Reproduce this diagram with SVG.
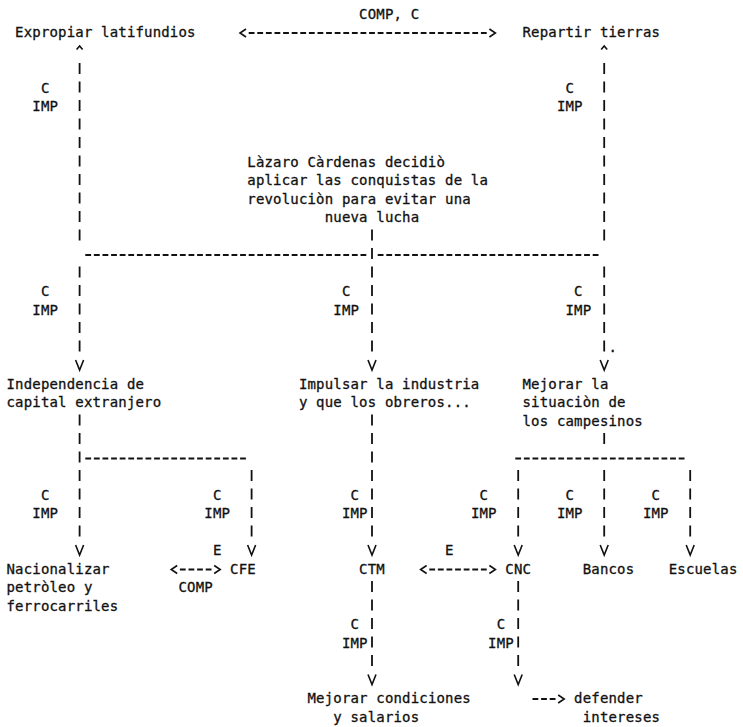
<svg xmlns="http://www.w3.org/2000/svg" width="743" height="727" viewBox="0 0 743 727">
<style>
text{font-family:"DejaVu Sans Mono","Liberation Mono",monospace;font-size:14px;letter-spacing:0.17px;fill:#111;stroke:#111;stroke-width:0.3}
.vp{stroke:#111;stroke-width:1.8;stroke-dasharray:11 7.5;fill:none}
.hd{stroke:#111;stroke-width:1.8;stroke-dasharray:5.8 2.8;fill:none}
.ah{stroke:#111;stroke-width:1.6;fill:none;stroke-linejoin:miter}
</style>
<defs>
<path id="v" d="M-4,-5 L0,5 L4,-5"/>
<path id="up" d="M-3,-1 L0,-4.5 L3,-1"/>
<path id="lt" d="M3,-4 L-3,0 L3,4"/>
<path id="gt" d="M-3,-4 L3,0 L-3,4"/>
</defs>
<rect width="743" height="727" fill="#fff"/>
<g id="connectors">
<line class="vp" x1="79.6" y1="63" x2="79.6" y2="240.5"/>
<line class="vp" x1="604.2" y1="63" x2="604.2" y2="240.5"/>
<line class="vp" x1="372" y1="229.5" x2="372" y2="351.5"/>
<line class="vp" x1="79.6" y1="266.5" x2="79.6" y2="351.5"/>
<line class="vp" x1="604.2" y1="266.5" x2="604.2" y2="351.5"/>
<line class="vp" x1="79.6" y1="414.5" x2="79.6" y2="536.5"/>
<line class="vp" x1="372" y1="414.5" x2="372" y2="536.5"/>
<line class="vp" x1="604.2" y1="433" x2="604.2" y2="444"/>
<line class="vp" x1="251.6" y1="470" x2="251.6" y2="536.5"/>
<line class="vp" x1="518.2" y1="470" x2="518.2" y2="536.5"/>
<line class="vp" x1="604.2" y1="470" x2="604.2" y2="536.5"/>
<line class="vp" x1="690.2" y1="470" x2="690.2" y2="536.5"/>
<line class="vp" x1="372" y1="581" x2="372" y2="666"/>
<line class="vp" x1="518.2" y1="581" x2="518.2" y2="666"/>
<line class="hd" x1="248.7" y1="33" x2="486.7" y2="33"/>
<line class="hd" x1="85.3" y1="255" x2="366.3" y2="255"/>
<line class="hd" x1="377.7" y1="255" x2="598.5" y2="255"/>
<line class="hd" x1="85.3" y1="458.5" x2="245.9" y2="458.5"/>
<line class="hd" x1="515.3" y1="458.5" x2="684.5" y2="458.5"/>
<line class="hd" x1="179.9" y1="569.5" x2="211.5" y2="569.5"/>
<line class="hd" x1="429.3" y1="569.5" x2="486.7" y2="569.5"/>
<line class="hd" x1="532.5" y1="699" x2="555.5" y2="699"/>
<g class="ah">
<use href="#lt" x="243" y="33"/>
<use href="#gt" x="492.4" y="33"/>
<use href="#lt" x="174.2" y="569.5"/>
<use href="#gt" x="217.2" y="569.5"/>
<use href="#lt" x="423.6" y="569.5"/>
<use href="#gt" x="492.4" y="569.5"/>
<use href="#gt" x="561.2" y="699"/>
<use href="#up" x="79.6" y="50.5"/>
<use href="#up" x="604.2" y="50.5"/>
<use href="#v" x="79.6" y="365"/>
<use href="#v" x="372" y="365"/>
<use href="#v" x="604.2" y="365"/>
<use href="#v" x="79.6" y="550"/>
<use href="#v" x="251.6" y="550"/>
<use href="#v" x="372" y="550"/>
<use href="#v" x="518.2" y="550"/>
<use href="#v" x="604.2" y="550"/>
<use href="#v" x="690.2" y="550"/>
<use href="#v" x="372" y="679.5"/>
<use href="#v" x="518.2" y="679.5"/>
</g>
<g id="labels">
<text x="359.1" y="18.5">COMP, C</text>
<text x="40.9" y="92.5">C</text>
<text x="32.3" y="111">IMP</text>
<text x="565.5" y="92.5">C</text>
<text x="556.9" y="111">IMP</text>
<text x="40.9" y="296">C</text>
<text x="32.3" y="314.5">IMP</text>
<text x="341.9" y="296">C</text>
<text x="333.3" y="314.5">IMP</text>
<text x="574.1" y="296">C</text>
<text x="565.5" y="314.5">IMP</text>
<text x="608.5" y="351.5">.</text>
<text x="40.9" y="499.5">C</text>
<text x="32.3" y="518">IMP</text>
<text x="212.9" y="499.5">C</text>
<text x="204.3" y="518">IMP</text>
<text x="350.5" y="499.5">C</text>
<text x="341.9" y="518">IMP</text>
<text x="479.5" y="499.5">C</text>
<text x="470.9" y="518">IMP</text>
<text x="565.5" y="499.5">C</text>
<text x="556.9" y="518">IMP</text>
<text x="651.5" y="499.5">C</text>
<text x="642.9" y="518">IMP</text>
<text x="212.9" y="555">E</text>
<text x="445.1" y="555">E</text>
<text x="178.5" y="592">COMP</text>
<text x="350.5" y="629">C</text>
<text x="341.9" y="647.5">IMP</text>
<text x="496.7" y="629">C</text>
<text x="488.1" y="647.5">IMP</text>
</g>
</g>
<g id="n-expropiar"><text x="15.1" y="37">Expropiar latifundios</text></g>
<g id="n-repartir"><text x="522.5" y="37">Repartir tierras</text></g>
<g id="n-cardenas">
<text x="247.3" y="166.5">Làzaro Càrdenas decidiò</text>
<text x="247.3" y="185">aplicar las conquistas de la</text>
<text x="247.3" y="203.5">revoluciòn para evitar una</text>
<text x="324.7" y="222">nueva lucha</text>
</g>
<g id="n-independencia">
<text x="6.5" y="388.5">Independencia de</text>
<text x="6.5" y="407">capital extranjero</text>
</g>
<g id="n-impulsar">
<text x="298.9" y="388.5">Impulsar la industria</text>
<text x="298.9" y="407">y que los obreros...</text>
</g>
<g id="n-campesinos">
<text x="522.5" y="388.5">Mejorar la</text>
<text x="522.5" y="407">situaciòn de</text>
<text x="522.5" y="425.5">los campesinos</text>
</g>
<g id="n-nacionalizar">
<text x="6.5" y="573.5">Nacionalizar</text>
<text x="6.5" y="592">petròleo y</text>
<text x="6.5" y="610.5">ferrocarriles</text>
</g>
<g id="n-cfe"><text x="230.1" y="573.5">CFE</text></g>
<g id="n-ctm"><text x="359.1" y="573.5">CTM</text></g>
<g id="n-cnc"><text x="505.3" y="573.5">CNC</text></g>
<g id="n-bancos"><text x="582.7" y="573.5">Bancos</text></g>
<g id="n-escuelas"><text x="668.7" y="573.5">Escuelas</text></g>
<g id="n-condiciones">
<text x="307.5" y="703">Mejorar condiciones</text>
<text x="333.3" y="721.5">y salarios</text>
</g>
<g id="n-defender">
<text x="574.1" y="703">defender</text>
<text x="582.7" y="721.5">intereses</text>
</g>
</svg>
